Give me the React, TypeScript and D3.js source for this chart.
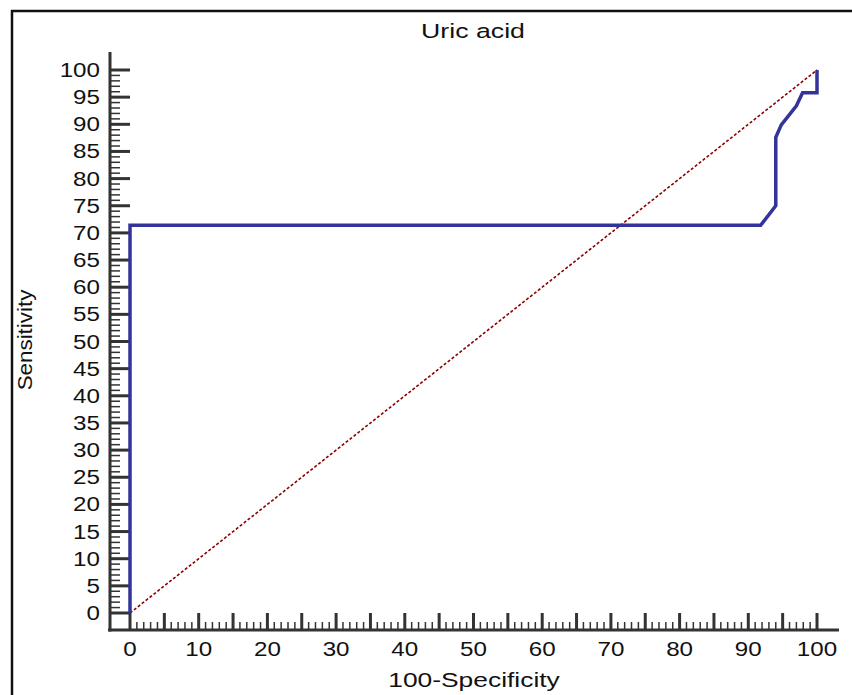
import React, { useEffect, useRef } from 'react';
import * as d3 from 'd3';

const fpr = [0, 0, 91.8, 94, 94, 94.8, 97, 97.9, 100, 100];
const tpr = [0, 71.4, 71.4, 75, 87.6, 89.9, 93.4, 95.8, 95.8, 100];
const diagonal = [0, 100];
const xTickLabels = [0, 10, 20, 30, 40, 50, 60, 70, 80, 90, 100];
const yTickLabels = [0, 5, 10, 15, 20, 25, 30, 35, 40, 45, 50, 55, 60, 65, 70, 75, 80, 85, 90, 95, 100];

const App = () => {
  const svgRef = useRef<SVGSVGElement>(null);

  useEffect(() => {
    const width = 852;
    const height = 695;
    const font = 'Liberation Sans, Arial, sans-serif';

    const svg = d3.select(svgRef.current);
    svg.selectAll('*').remove();
    svg.attr('width', width).attr('height', height);

    svg.append('rect').attr('width', width).attr('height', height).attr('fill', 'white');

    // outer frame (only top and left visible)
    svg.append('rect')
      .attr('x', 12).attr('y', 11)
      .attr('width', width + 20).attr('height', height + 20)
      .attr('fill', 'none').attr('stroke', '#111').attr('stroke-width', 2.5);

    const x = d3.scaleLinear().domain([0, 100]).range([130, 817]);
    const y = d3.scaleLinear().domain([0, 100]).range([613, 70]);

    const axisColor = '#333';
    const yAxisX = 110;
    const xAxisY = 630;

    // the source font is drawn wider than Arial, so stretch text horizontally
    const addText = (px: number, py: number, txt: string, size: number, sx: number, anchor: string, rotate = 0) => {
      svg.append('text')
        .attr('transform', `translate(${px},${py}) rotate(${rotate}) scale(${sx},1)`)
        .attr('text-anchor', anchor)
        .style('font-family', font)
        .style('font-size', `${size}px`)
        .style('fill', '#111')
        .text(txt);
    };

    // y axis
    svg.append('line')
      .attr('x1', yAxisX).attr('x2', yAxisX)
      .attr('y1', 52).attr('y2', xAxisY + 1.5)
      .attr('stroke', axisColor).attr('stroke-width', 3);

    d3.range(0, 101).forEach(v => {
      const major = v % 5 === 0;
      svg.append('line')
        .attr('x1', yAxisX).attr('x2', yAxisX + (major ? 20 : 10))
        .attr('y1', y(v)).attr('y2', y(v))
        .attr('stroke', axisColor).attr('stroke-width', major ? 3 : 1.5);
    });

    yTickLabels.forEach(d => addText(100, y(d) + 7, String(d), 19.5, 1.24, 'end'));

    // x axis
    svg.append('line')
      .attr('x1', 108).attr('x2', 839)
      .attr('y1', xAxisY).attr('y2', xAxisY)
      .attr('stroke', axisColor).attr('stroke-width', 3);

    d3.range(0, 101).forEach(v => {
      const major = v % 5 === 0;
      svg.append('line')
        .attr('x1', x(v)).attr('x2', x(v))
        .attr('y1', xAxisY).attr('y2', xAxisY - (major ? 17 : 8))
        .attr('stroke', axisColor).attr('stroke-width', major ? 3 : 1.5);
    });

    xTickLabels.forEach(d => addText(x(d), 656, String(d), 19.5, 1.24, 'middle'));

    // diagonal reference
    svg.append('line')
      .attr('x1', x(diagonal[0])).attr('y1', y(diagonal[0]))
      .attr('x2', x(diagonal[1])).attr('y2', y(diagonal[1]))
      .attr('stroke', '#8b0000').attr('stroke-width', 1.6)
      .attr('stroke-dasharray', '3,2');

    // ROC curve
    const line = d3.line<number>()
      .x((d, i) => x(fpr[i]))
      .y(d => y(d));

    svg.append('path')
      .datum(tpr)
      .attr('d', line)
      .attr('fill', 'none')
      .attr('stroke', '#333399')
      .attr('stroke-width', 3.5)
      .attr('stroke-linejoin', 'miter');

    // titles
    addText(473, 38, 'Uric acid', 19.5, 1.37, 'middle');
    addText(474, 687, '100-Specificity', 20, 1.32, 'middle');
    addText(32, 340, 'Sensitivity', 20, 1.12, 'middle', -90);
  }, []);

  return <svg ref={svgRef} style={{ position: 'absolute', left: 0, top: 0 }}></svg>;
};

export default App;
